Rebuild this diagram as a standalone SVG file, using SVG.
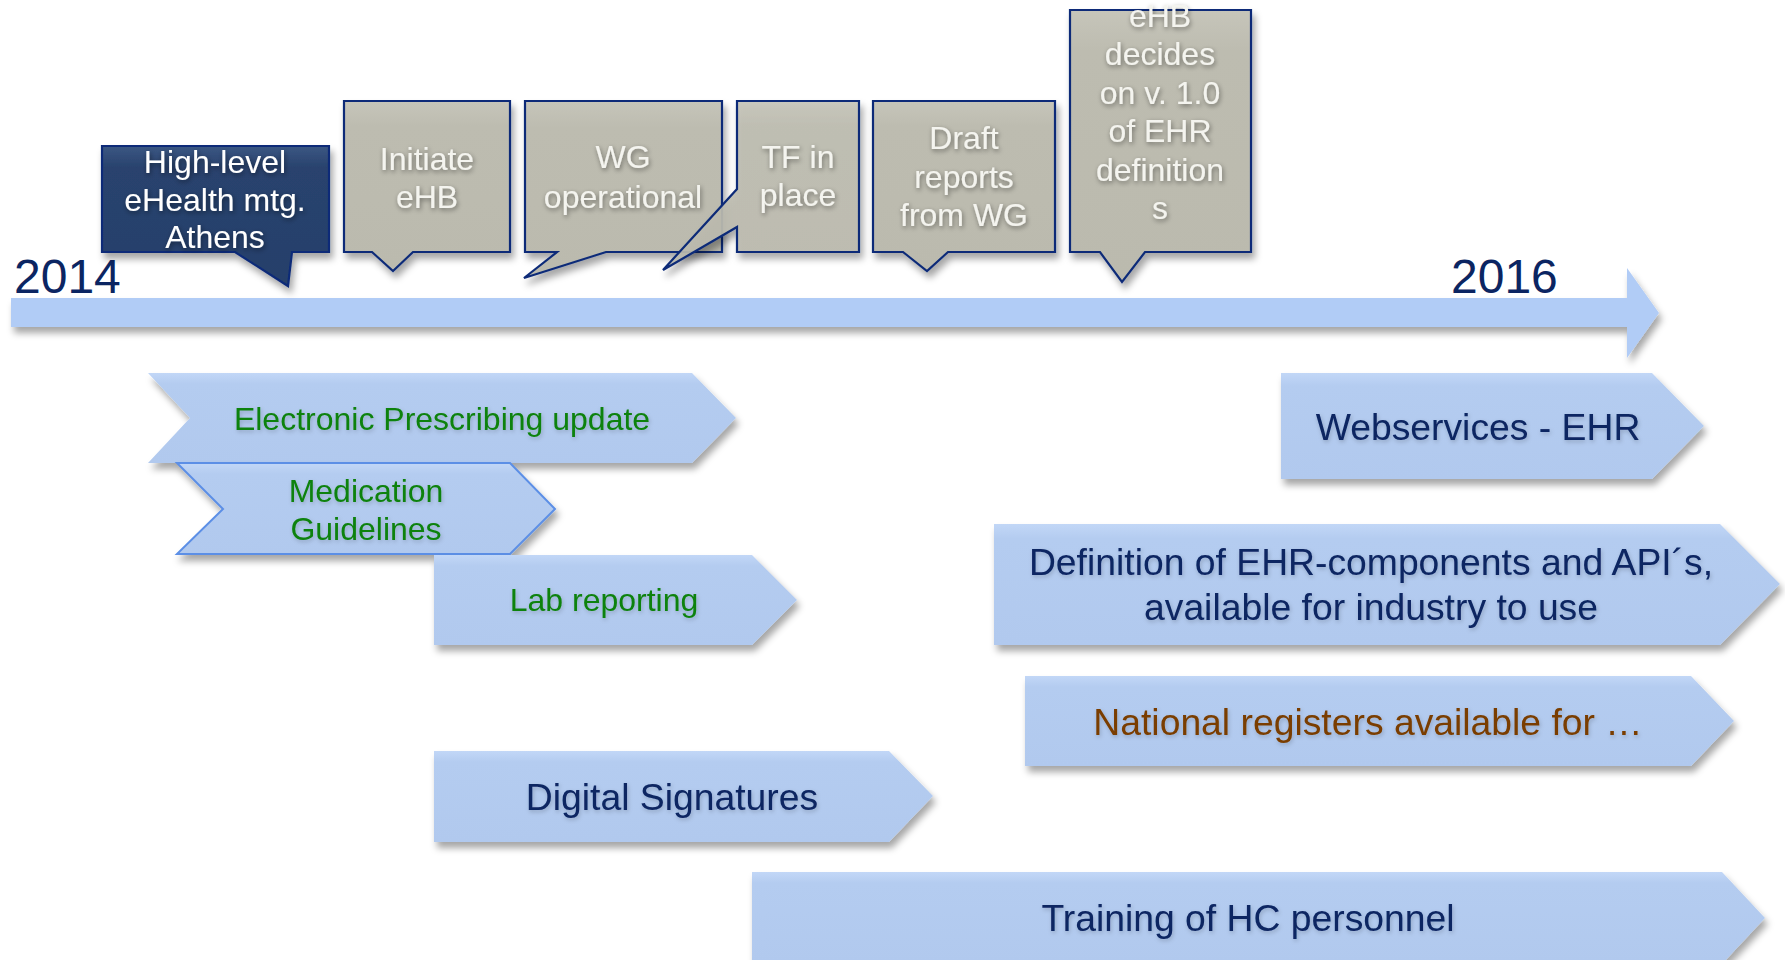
<svg xmlns="http://www.w3.org/2000/svg" width="1785" height="960" viewBox="0 0 1785 960">
  <defs>
    <filter id="sh" x="-10%" y="-20%" width="125%" height="150%">
      <feDropShadow dx="3" dy="6" stdDeviation="3.5" flood-color="#000" flood-opacity="0.35"/>
    </filter>
    <filter id="tsh" x="-10%" y="-30%" width="120%" height="170%">
      <feDropShadow dx="1" dy="2" stdDeviation="2.5" flood-color="#000" flood-opacity="0.45"/>
    </filter>
    <filter id="tsh2" x="-10%" y="-30%" width="120%" height="170%">
      <feDropShadow dx="1" dy="2" stdDeviation="2" flood-color="#000" flood-opacity="0.2"/>
    </filter>
    <linearGradient id="gGrey" x1="0" y1="0" x2="0" y2="1">
      <stop offset="0" stop-color="#C6C5BA"/>
      <stop offset="0.15" stop-color="#BDBCB0"/>
      <stop offset="1" stop-color="#BBBAAE"/>
    </linearGradient>
    <linearGradient id="gNavy" x1="0" y1="0" x2="0" y2="1">
      <stop offset="0" stop-color="#3B5783"/>
      <stop offset="0.15" stop-color="#29436E"/>
      <stop offset="1" stop-color="#26406B"/>
    </linearGradient>
    <linearGradient id="gBlue" x1="0" y1="0" x2="0" y2="1">
      <stop offset="0" stop-color="#C2D7F7"/>
      <stop offset="0.12" stop-color="#B4CCF0"/>
      <stop offset="1" stop-color="#B1C9EE"/>
    </linearGradient>
    <style>
      .call { fill: url(#gGrey); stroke: #0C2B78; stroke-width: 2.2; stroke-linejoin: miter; filter: url(#sh); }
      .callN { fill: url(#gNavy); stroke: #0C2B78; stroke-width: 2.2; filter: url(#sh); }
      .ct { font-family: "Liberation Sans", Arial, sans-serif; font-size: 32px; fill: #F4F4EF; text-anchor: middle; filter: url(#tsh); }
      .chev { fill: url(#gBlue); filter: url(#sh); }
      .green { font-family: "Liberation Sans", Arial, sans-serif; font-size: 32px; fill: #0E820E; text-anchor: middle; filter: url(#tsh2); }
      .navy { font-family: "Liberation Sans", Arial, sans-serif; font-size: 37.3px; fill: #0B2562; text-anchor: middle; filter: url(#tsh2); }
      .brown { font-family: "Liberation Sans", Arial, sans-serif; font-size: 37.3px; fill: #7A3E00; text-anchor: middle; filter: url(#tsh2); }
      .year { font-family: "Liberation Sans", Arial, sans-serif; font-size: 48px; fill: #0B2562; }
    </style>
  </defs>
  <rect width="1785" height="960" fill="#FFFFFF"/>

  <g id="connectors">
    <path id="timeline" d="M11,298 H1627 V268 L1659,313 L1627,358 V327 H11 Z" fill="#B1CCF6" filter="url(#sh)"/>
  </g>

  <g id="year-2014"><text class="year" x="14" y="293">2014</text></g>
  <g id="year-2016"><text class="year" x="1451" y="293">2016</text></g>

  <g id="n-highlevel">
    <path class="callN" d="M102,146 H329 V252 H292 L288,286 L235,252 H102 Z"/>
    <text class="ct" style="fill:#FFFFFF"><tspan x="215" y="173">High-level</tspan><tspan x="215" y="211">eHealth mtg.</tspan><tspan x="215" y="248">Athens</tspan></text>
  </g>

  <g id="n-initiate">
    <path class="call" d="M344,101 H510 V252 H413 L393,271 L372,252 H344 Z"/>
    <text class="ct"><tspan x="427" y="170">Initiate</tspan><tspan x="427" y="208">eHB</tspan></text>
  </g>

  <g id="n-wg">
    <path class="call" d="M525,101 H722 V252 H606 L524,278 L557,252 H525 Z"/>
    <text class="ct"><tspan x="623" y="168">WG</tspan><tspan x="623" y="208">operational</tspan></text>
  </g>

  <g id="n-tf">
    <path class="call" style="fill-opacity:0.92" d="M737,101 H859 V252 H737 V227 L663,270 L737,189 Z"/>
    <text class="ct"><tspan x="798" y="168">TF in</tspan><tspan x="798" y="206">place</tspan></text>
  </g>

  <g id="n-draft">
    <path class="call" d="M873,101 H1055 V252 H948 L927,271 L903,252 H873 Z"/>
    <text class="ct"><tspan x="964" y="149">Draft</tspan><tspan x="964" y="188">reports</tspan><tspan x="964" y="226">from WG</tspan></text>
  </g>

  <g id="n-ehb">
    <path class="call" d="M1070,10 H1251 V252 H1145 L1122,282 L1100,252 H1070 Z"/>
    <text class="ct"><tspan x="1160" y="27">eHB</tspan><tspan x="1160" y="65">decides</tspan><tspan x="1160" y="104">on v. 1.0</tspan><tspan x="1160" y="142">of EHR</tspan><tspan x="1160" y="181">definition</tspan><tspan x="1160" y="219">s</tspan></text>
  </g>

  <g id="n-eprescribing">
    <path class="chev" d="M148,373 H692 L736,418 L692,463 H148 L190,418 Z"/>
    <text class="green" x="442" y="430">Electronic Prescribing update</text>
  </g>

  <g id="n-medication">
    <path class="chev" stroke="#5C8FE6" stroke-width="2" d="M177,463 H510 L555,509 L510,554 H177 L223,509 Z"/>
    <text class="green"><tspan x="366" y="502">Medication</tspan><tspan x="366" y="540">Guidelines</tspan></text>
  </g>

  <g id="n-lab">
    <path class="chev" d="M434,555 H752 L797,600 L752,645 H434 Z"/>
    <text class="green" x="604" y="611">Lab reporting</text>
  </g>

  <g id="n-webservices">
    <path class="chev" d="M1281,373 H1652 L1704,426 L1652,479 H1281 Z"/>
    <text class="navy" x="1478" y="440">Webservices - EHR</text>
  </g>

  <g id="n-definition">
    <path class="chev" d="M994,524 H1720 L1780,584 L1720,645 H994 Z"/>
    <text class="navy"><tspan x="1371" y="575">Definition of EHR-components and API´s,</tspan><tspan x="1371" y="620">available for industry to use</tspan></text>
  </g>

  <g id="n-national">
    <path class="chev" d="M1025,676 H1691 L1734,721 L1691,766 H1025 Z"/>
    <text class="brown" x="1368" y="735">National registers available for …</text>
  </g>

  <g id="n-digsig">
    <path class="chev" d="M434,751 H889 L933,796 L889,842 H434 Z"/>
    <text class="navy" x="672" y="810">Digital Signatures</text>
  </g>

  <g id="n-training">
    <path class="chev" d="M752,872 H1722 L1765,918 L1722,964 H752 Z"/>
    <text class="navy" x="1248" y="931">Training of HC personnel</text>
  </g>
</svg>
